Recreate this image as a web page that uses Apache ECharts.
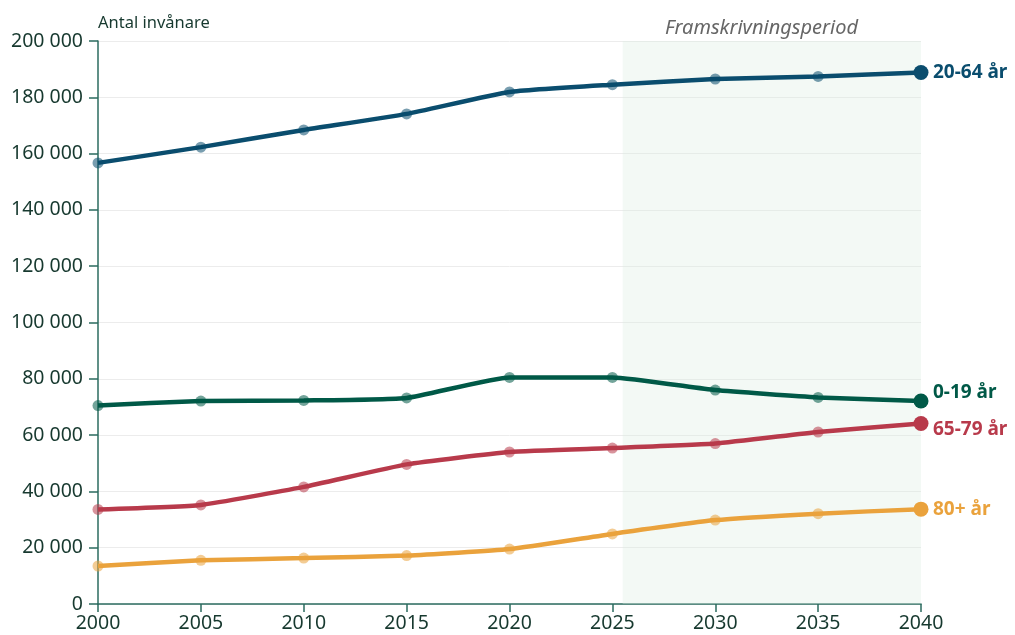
<!DOCTYPE html>
<html><head><meta charset="utf-8">
<script src="https://cdn.jsdelivr.net/npm/echarts@6/dist/echarts.min.js"></script>
<style>html,body{margin:0;padding:0;background:#fff}#c{width:1015px;height:635px}</style>
</head><body><div id="c"></div>
<script>
const years = [2000, 2005, 2010, 2015, 2020, 2025, 2030, 2035, 2040];
const age20_64 = [156700, 162300, 168400, 174100, 181900, 184500, 186500, 187400, 188800];
const age0_19 = [70500, 72100, 72300, 73200, 80500, 80500, 76000, 73400, 72100];
const age65_79 = [33600, 35200, 41600, 49600, 54000, 55400, 57000, 61100, 64100];
const age80 = [13500, 15500, 16300, 17200, 19500, 24900, 29800, 32100, 33700];
const seriesNames = ['20-64 år', '0-19 år', '65-79 år', '80+ år'];
const colors = ['#0a4d6e', '#005947', '#b83a4b', '#eaa23c'];
const projectionStart = 2025.5, projectionEnd = 2040;

const chart = echarts.init(document.getElementById('c'));
const font = 'Noto Sans';
const textColor = '#17392f';
const axisColor = '#2b6b5f';
const fmt = v => String(v).replace(/\B(?=(\d{3})+(?!\d))/g, ' ');

function mk(name, vals, color, offset) {
  return {
    name, type: 'line', smooth: 0.15,
    data: vals.map((v, i) => {
      const last = i === vals.length - 1;
      return {
        value: [years[i], v],
        symbolSize: last ? 15 : 11,
        itemStyle: { color: color, opacity: last ? 1 : 0.55 }
      };
    }),
    symbol: 'circle',
    lineStyle: { color, width: 4.5 },
    itemStyle: { color },
    z: 5,
    endLabel: {
      show: true, formatter: name, color, fontFamily: font,
      fontWeight: 'bold', fontSize: 19, distance: 12, offset: offset
    },
    emphasis: { disabled: true }
  };
}

chart.setOption({
  animation: false,
  grid: { left: 98, right: 94, top: 41, bottom: 31 },
  xAxis: {
    type: 'value', min: 2000, max: 2040, interval: 5,
    axisLine: { show: true, lineStyle: { color: axisColor, width: 1.5 } },
    axisTick: { show: true, length: 8, lineStyle: { color: axisColor, width: 1.5 } },
    axisLabel: { color: textColor, fontFamily: font, fontSize: 19.5, margin: 9, formatter: v => String(v) },
    splitLine: { show: false }
  },
  yAxis: {
    type: 'value', min: 0, max: 200000, interval: 20000,
    name: 'Antal invånare', nameLocation: 'end', nameGap: 9,
    nameTextStyle: { color: textColor, fontFamily: font, fontSize: 16.5, align: 'left', padding: [0, 0, 0, 0] },
    axisLine: { show: true, lineStyle: { color: axisColor, width: 1.5 } },
    axisTick: { show: true, length: 9, lineStyle: { color: axisColor, width: 1.5 } },
    axisLabel: { color: textColor, fontFamily: font, fontSize: 19.5, margin: 15, formatter: fmt },
    splitLine: { show: true, lineStyle: { color: '#ececec', width: 1 } }
  },
  series: [
    Object.assign(mk(seriesNames[0], age20_64, colors[0], [0, 0]), {
      markArea: {
        silent: true,
        itemStyle: { color: 'rgba(222,238,226,0.35)' },
        label: { show: false },
        data: [[{ xAxis: projectionStart }, { xAxis: projectionEnd }]]
      }
    }),
    mk(seriesNames[1], age0_19, colors[1], [0, -8]),
    mk(seriesNames[2], age65_79, colors[2], [0, 6]),
    mk(seriesNames[3], age80, colors[3], [0, 0])
  ],
  graphic: [{
    type: 'text', left: 665, top: 18,
    style: { text: 'Framskrivningsperiod', fill: '#666', font: 'italic 20px "Noto Sans"' }
  }]
});
</script></body></html>
